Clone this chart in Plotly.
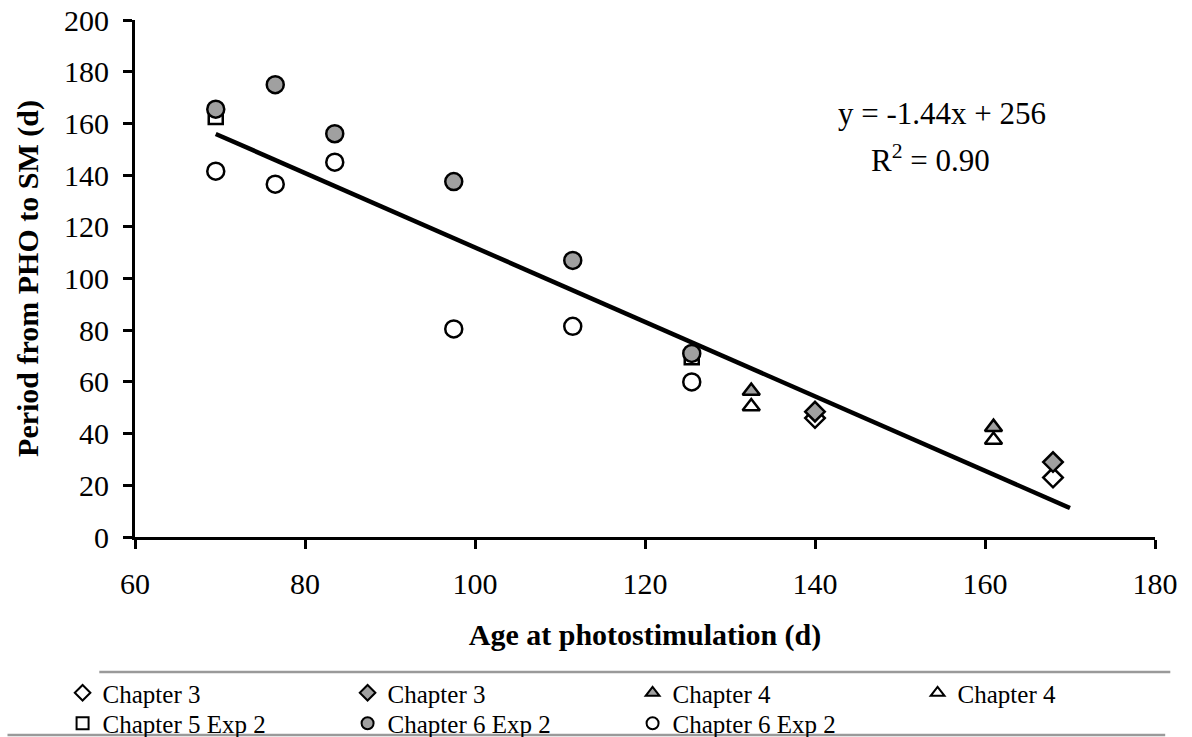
import plotly.graph_objects as go

# Age at photostimulation (d) and period from PHO to SM (d) for each group
ch3_open_x = [140, 168]
ch3_open_y = [46, 23]
ch3_grey_x = [140, 168]
ch3_grey_y = [48.5, 29]
ch4_grey_x = [132.5, 161]
ch4_grey_y = [56.5, 42.5]
ch4_open_x = [132.5, 161]
ch4_open_y = [50.5, 37.5]
ch5_x = [69.5, 125.5]
ch5_y = [162.5, 69.5]
ch6_grey_x = [69.5, 76.5, 83.5, 97.5, 111.5, 125.5]
ch6_grey_y = [165.5, 175, 156, 137.5, 107, 71]
ch6_open_x = [69.5, 76.5, 83.5, 97.5, 111.5, 125.5]
ch6_open_y = [141.5, 136.5, 145, 80.5, 81.5, 60]

# Linear regression reported for the pooled data
slope = -1.44
intercept = 256
r_squared = 0.90
fit_x = [69.5, 170]
fit_y = [slope * v + intercept for v in fit_x]

x_ticks = [60, 80, 100, 120, 140, 160, 180]
y_ticks = [0, 20, 40, 60, 80, 100, 120, 140, 160, 180, 200]

FONT = "Liberation Serif"
GREY = "#a0a0a0"

fig = go.Figure()

fig.add_trace(go.Scatter(
    x=fit_x, y=fit_y, mode="lines", showlegend=False,
    line=dict(color="black", width=4.5)))


def add_group(x, y, name, symbol, fill, legend, rank, size=15):
    fig.add_trace(go.Scatter(
        x=x, y=y, mode="markers", name=name, legend=legend, legendrank=rank,
        marker=dict(symbol=symbol, size=size, color=fill,
                    line=dict(color="black", width=2.5))))


# first legend row: Chapters 3 and 4; second row: Chapters 5 and 6
add_group(ch5_x, ch5_y, "Chapter 5 Exp 2", "square", "white", "legend2", 1, 14)
add_group(ch6_open_x, ch6_open_y, "Chapter 6 Exp 2", "circle", "white", "legend2", 3, 17)
add_group(ch6_grey_x, ch6_grey_y, "Chapter 6 Exp 2", "circle", GREY, "legend2", 2, 17)
add_group(ch3_open_x, ch3_open_y, "Chapter 3", "diamond", "white", "legend", 1, 15)
add_group(ch3_grey_x, ch3_grey_y, "Chapter 3", "diamond", GREY, "legend", 2, 15)
add_group(ch4_grey_x, ch4_grey_y, "Chapter 4", "triangle-up", GREY, "legend", 3, 15)
add_group(ch4_open_x, ch4_open_y, "Chapter 4", "triangle-up", "white", "legend", 4, 15)

# regression equation and coefficient of determination
fig.add_annotation(
    x=154.9, y=164, xref="x", yref="y", showarrow=False,
    text=f"y = {slope}x + {intercept}",
    font=dict(family=FONT, size=31, color="black"))
fig.add_annotation(
    x=153.6, y=146.6, xref="x", yref="y", showarrow=False,
    text=f"R<sup>2</sup> = {r_squared:.2f}",
    font=dict(family=FONT, size=31, color="black"))

axis_common = dict(
    showgrid=False, zeroline=False, showline=True, linecolor="black",
    linewidth=3, ticks="outside", ticklen=9, tickwidth=3, tickcolor="black",
    tickfont=dict(family=FONT, size=30, color="black"))

fig.update_xaxes(
    range=[60, 180], tickvals=x_ticks, ticktext=[str(t) for t in x_ticks],
    ticklabelstandoff=9,
    title=dict(text="<b>Age at photostimulation (d)</b>",
               font=dict(family=FONT, size=30, color="black"), standoff=25),
    **axis_common)
fig.update_yaxes(
    range=[0, 200], tickvals=y_ticks, ticktext=[str(t) for t in y_ticks],
    ticklabelstandoff=8,
    title=dict(text="<b>Period from PHO to SM (d)</b>",
               font=dict(family=FONT, size=30, color="black"), standoff=17),
    **axis_common)

# horizontal rules framing the legend block
fig.add_shape(type="line", xref="paper", yref="paper",
              x0=-0.035, x1=1.015, y0=-0.261, y1=-0.261,
              line=dict(color="#9a9a9a", width=2.5))
fig.add_shape(type="line", xref="paper", yref="paper",
              x0=-0.125, x1=1.01, y0=-0.383, y1=-0.383,
              line=dict(color="#9a9a9a", width=2.5))

legend_common = dict(
    orientation="h", x=-0.071, xanchor="left", yanchor="top",
    entrywidth=240, entrywidthmode="pixels",
    font=dict(family=FONT, size=25, color="black"),
    itemsizing="constant", tracegroupgap=0,
    bgcolor="rgba(0,0,0,0)")

fig.update_layout(
    width=1192, height=737,
    margin=dict(l=135, r=37, t=20, b=200, autoexpand=False),
    plot_bgcolor="white", paper_bgcolor="white",
    font=dict(family=FONT, color="black"),
    legend=dict(y=-0.2573, **legend_common),
    legend2=dict(y=-0.3163, **legend_common),
)

fig.write_html("out.html")
